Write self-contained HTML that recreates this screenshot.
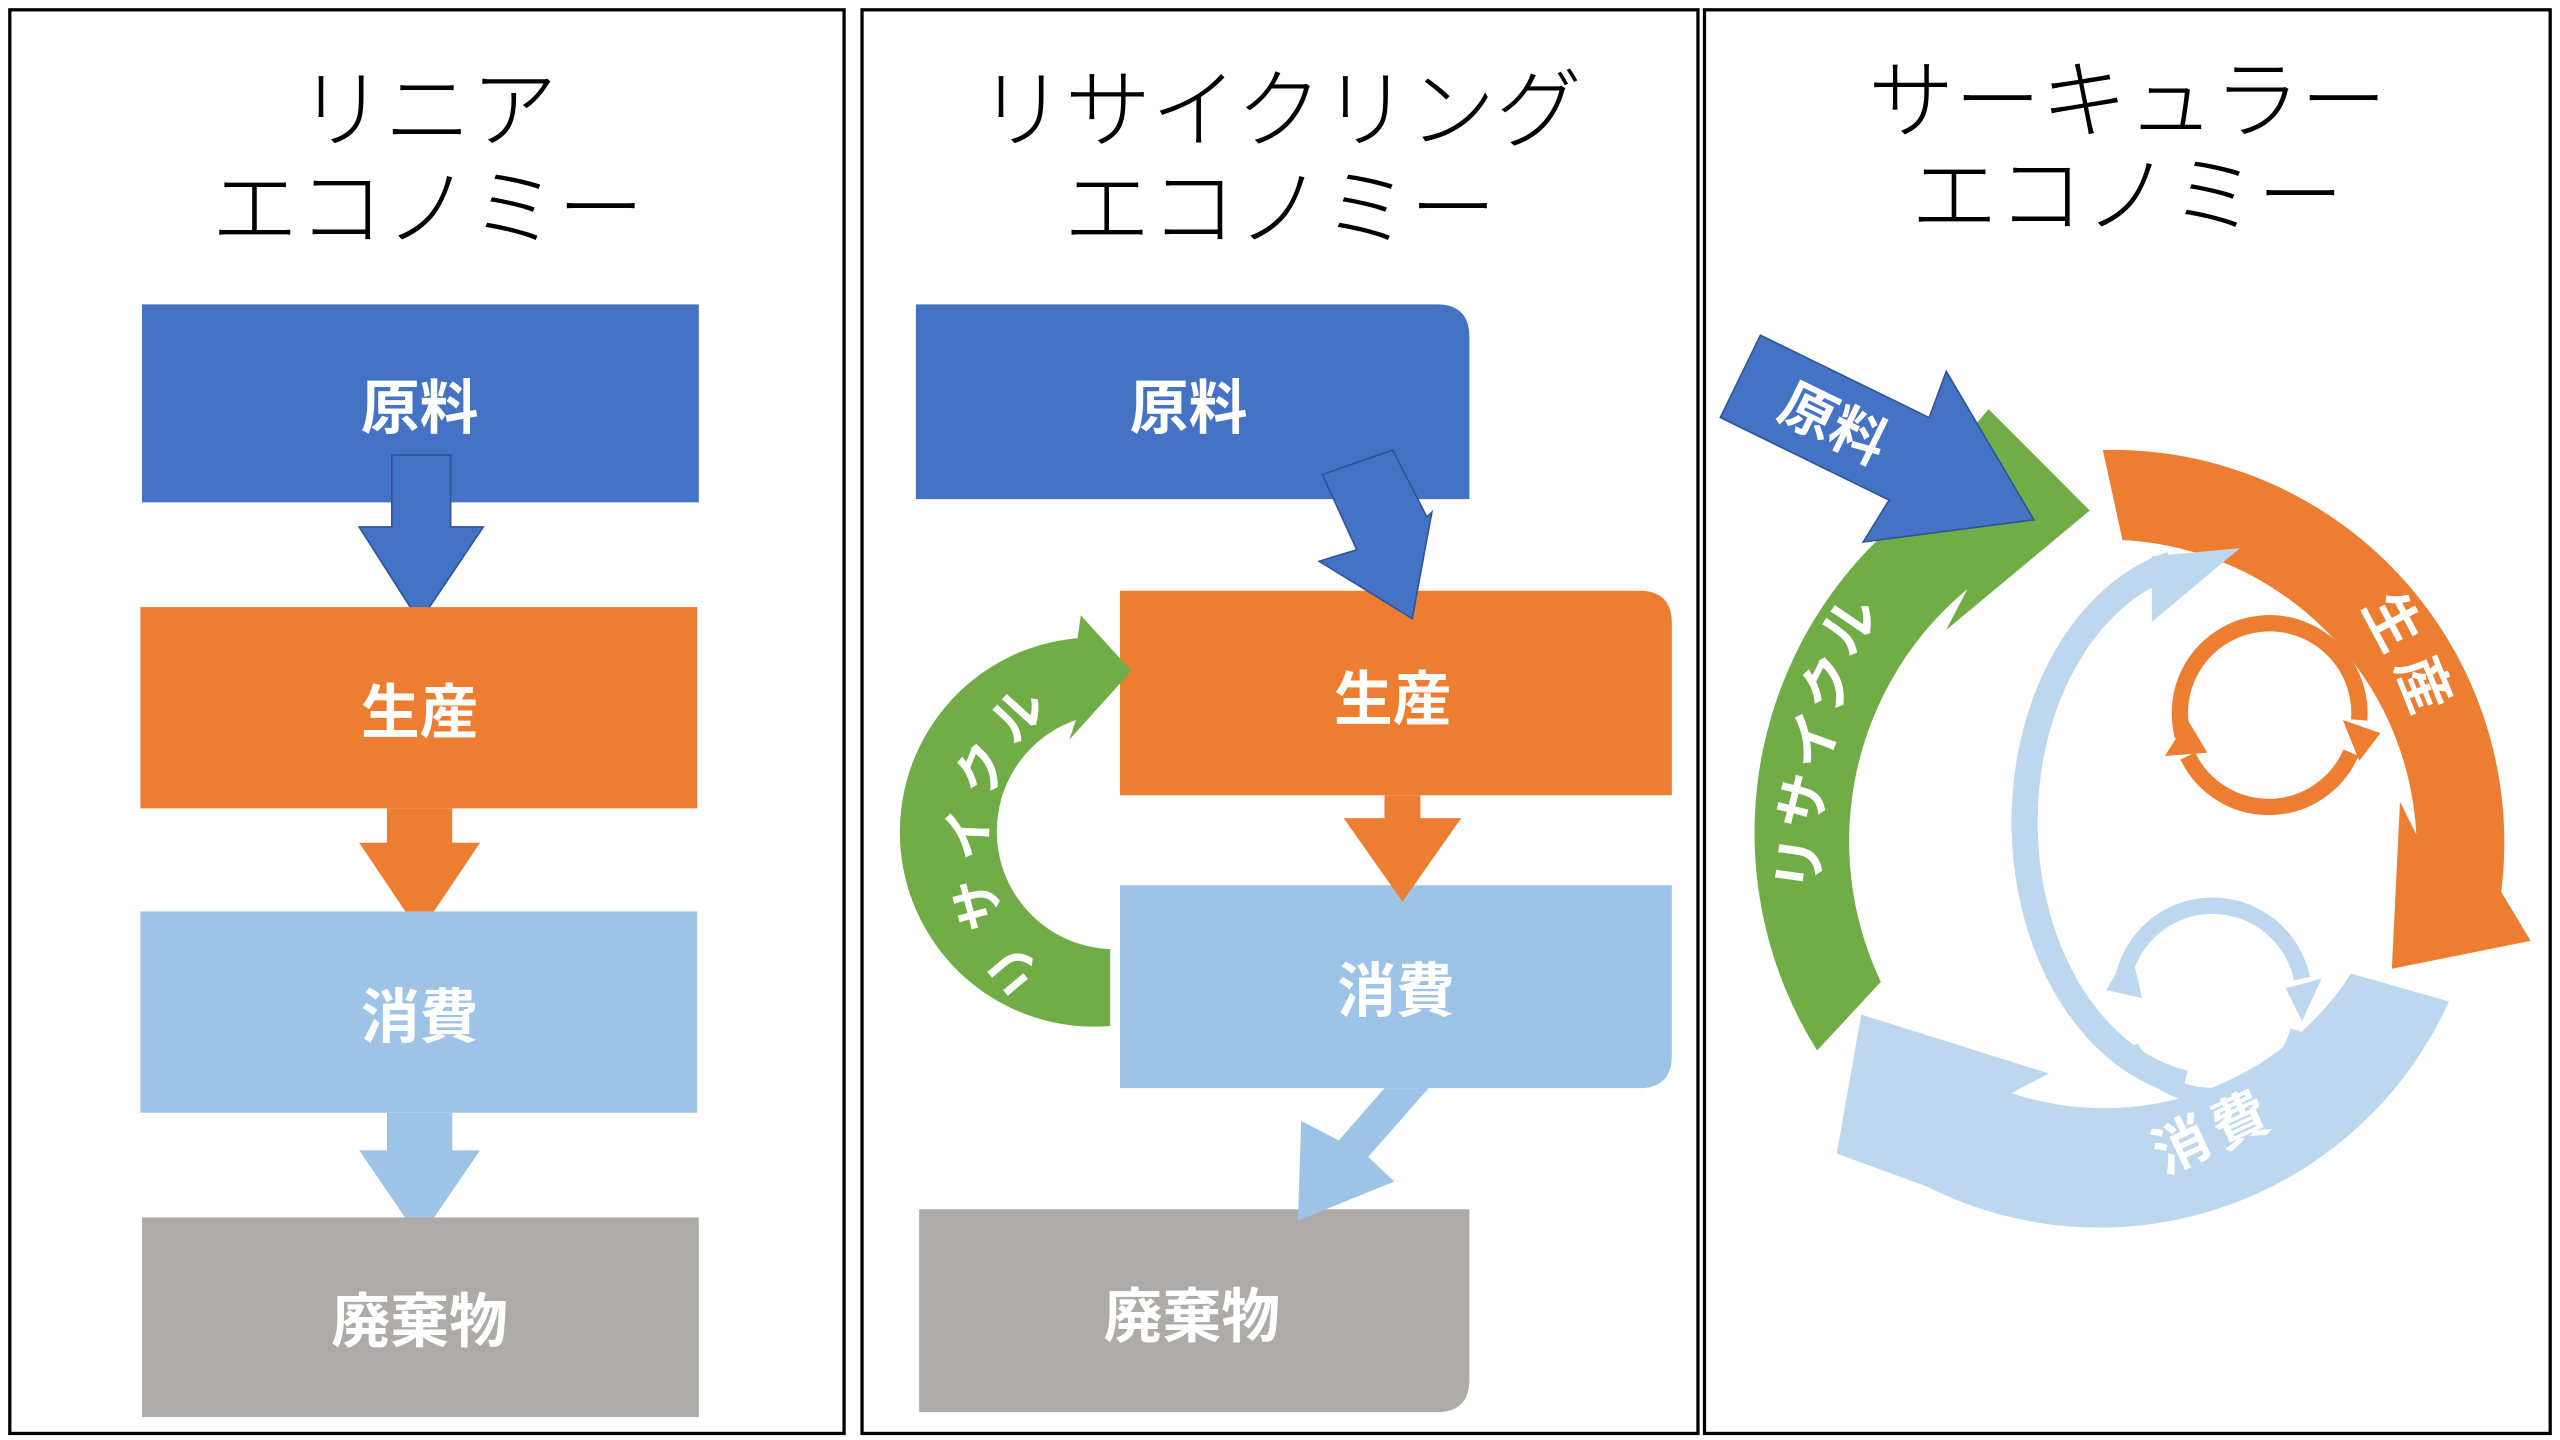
<!DOCTYPE html>
<html><head><meta charset="utf-8"><style>
html,body{margin:0;padding:0;background:#fff;}
svg{display:block;}
text{font-family:"Liberation Sans","Noto Sans CJK JP",sans-serif;}
.t{font-size:53px;fill:#000;font-weight:300;}
.w{font-size:36px;fill:#fff;font-weight:700;}
</style></head><body>
<svg width="2560" height="1440" viewBox="0 0 1568 880" preserveAspectRatio="none" xmlns="http://www.w3.org/2000/svg">
<rect width="1568" height="880" fill="#fff"/>
<g fill="none" stroke="#000" stroke-width="2">
<rect x="6" y="6" width="511" height="870"/>
<rect x="528" y="6" width="512" height="870"/>
<rect x="1044" y="6" width="518" height="870"/>
</g>
<g class="t" text-anchor="middle">
<text x="262" y="86">リニア</text>
<text x="262" y="146">エコノミー</text>
<text x="784" y="86">リサイクリング</text>
<text x="784" y="146">エコノミー</text>
<text x="1303" y="80">サーキュラー</text>
<text x="1303" y="138">エコノミー</text>
</g>
<!-- Panel 1 -->
<rect x="87" y="186" width="341" height="121" fill="#4472C4"/>
<polygon points="240,278 276,278 276,322 296,322 257,380 220,322 240,322" fill="#4472C4" stroke="#2F5597" stroke-width="1"/>
<rect x="86" y="371" width="341" height="123" fill="#ED7D31"/>
<polygon points="237,494 277,494 277,515 294,515 257,570 220,515 237,515" fill="#ED7D31"/>
<rect x="86" y="557" width="341" height="123" fill="#9DC3E6"/>
<polygon points="237,680 277,680 277,703 294,703 257,757 220,703 237,703" fill="#9DC3E6"/>
<rect x="87" y="744" width="341" height="122" fill="#AEAAAA"/>
<g class="w" text-anchor="middle">
<text x="257" y="262">原料</text>
<text x="257" y="448">生産</text>
<text x="257" y="634">消費</text>
<text x="257" y="820">廃棄物</text>
</g>
<!-- Panel 2 -->
<path d="M561,186 H880 Q900,186 900,206 V305 H561 Z" fill="#4472C4"/>
<path d="M686,361 H1004 Q1024,361 1024,381 V486 H686 Z" fill="#ED7D31"/>
<path d="M686,541 H1024 V645 Q1024,665 1004,665 H686 Z" fill="#9DC3E6"/>
<path d="M563,739 H900 V843 Q900,863 880,863 H563 Z" fill="#AEAAAA"/>
<polygon points="810,290 853,275 874,316 877,313 865,378 808,343 831,336" fill="#4472C4" stroke="#2F5597" stroke-width="1"/>
<polygon points="848,486 870,486 870,500 895,500 859,551 823,500 848,500" fill="#ED7D31"/>
<polygon points="848,665 875,665 838,707 854,722 795,746 797,685 820,697" fill="#9DC3E6"/>
<path d="M680,627 A118,118 0 0 1 660,390 L662,376 L693,410 L655,452 L659,440 A72,72 0 0 0 680,580 Z" fill="#70AD47"/>
<g fill="#fff" font-size="32" font-weight="700" text-anchor="middle" dominant-baseline="central">
<text transform="translate(622,592) rotate(-130)">リ</text>
<text transform="translate(600,552) rotate(-105)">サ</text>
<text transform="translate(594,510) rotate(-88)">イ</text>
<text transform="translate(602,470) rotate(-68)">ク</text>
<text transform="translate(624,437) rotate(-48)">ル</text>
</g>
<g class="w" text-anchor="middle">
<text x="728" y="262">原料</text>
<text x="853" y="440">生産</text>
<text x="855" y="618">消費</text>
<text x="730" y="817">廃棄物</text>
</g>
<!-- Panel 3 -->
<path d="M1113,642 A250,250 0 0 1 1150,330 L1218,250 L1280,312 L1192,385 L1205,360 A200,200 0 0 0 1152,600 Z" fill="#70AD47"/>
<g transform="translate(1066,230) rotate(26)">
<polygon points="0,-28 115,-28 112,-58 200,0 112,58 115,28 0,28" fill="#4472C4" stroke="#2F5597" stroke-width="1"/>
<text x="64" y="13" font-size="34" font-weight="700" fill="#fff" text-anchor="middle">原料</text>
</g>
<path d="M1288,275 A240,240 0 0 1 1532,545 L1550,575 L1465,592 L1470,490 L1480,510 A190,190 0 0 0 1300,330 Z" fill="#ED7D31"/>
<path d="M1500,612 A235,235 0 0 1 1180,725 L1125,705 L1140,620 L1255,656 L1232,668 A180,180 0 0 0 1440,595 Z" fill="#BDD7EE"/>
<!-- inner light blue arc -->
<path d="M1338,662 A118,162 0 0 1 1330,345" fill="none" stroke="#BDD7EE" stroke-width="16"/>
<polygon points="1318,340 1372,335 1318,380" fill="#BDD7EE"/>
<!-- small orange loop -->
<path d="M1337,450 A55,55 0 1 1 1445,440" fill="none" stroke="#ED7D31" stroke-width="10"/>
<path d="M1440,460 A55,55 0 0 1 1340,462" fill="none" stroke="#ED7D31" stroke-width="10"/>
<polygon points="1435,440 1458,448 1445,465" fill="#ED7D31"/>
<polygon points="1326,462 1340,440 1352,460" fill="#ED7D31"/>
<!-- small light blue loop -->
<path d="M1300,600 A56,56 0 0 1 1410,598" fill="none" stroke="#BDD7EE" stroke-width="10"/>
<path d="M1408,630 A56,56 0 0 1 1305,640" fill="none" stroke="#BDD7EE" stroke-width="10"/>
<polygon points="1290,605 1305,580 1312,610" fill="#BDD7EE"/>
<polygon points="1400,604 1422,598 1410,624" fill="#BDD7EE"/>
<g fill="#fff" font-size="34" font-weight="700" text-anchor="middle" dominant-baseline="central">
<text transform="translate(1103,528) rotate(-82)">リ</text>
<text transform="translate(1105,490) rotate(-76)">サ</text>
<text transform="translate(1111,453) rotate(-70)">イ</text>
<text transform="translate(1120,418) rotate(-63)">ク</text>
<text transform="translate(1133,382) rotate(-56)">ル</text>
<text transform="translate(1465,380) rotate(62)">生</text>
<text transform="translate(1484,418) rotate(68)">産</text>
<text transform="translate(1336,700) rotate(-25)">消</text>
<text transform="translate(1372,685) rotate(-25)">費</text>
</g>
</svg>
</body></html>
